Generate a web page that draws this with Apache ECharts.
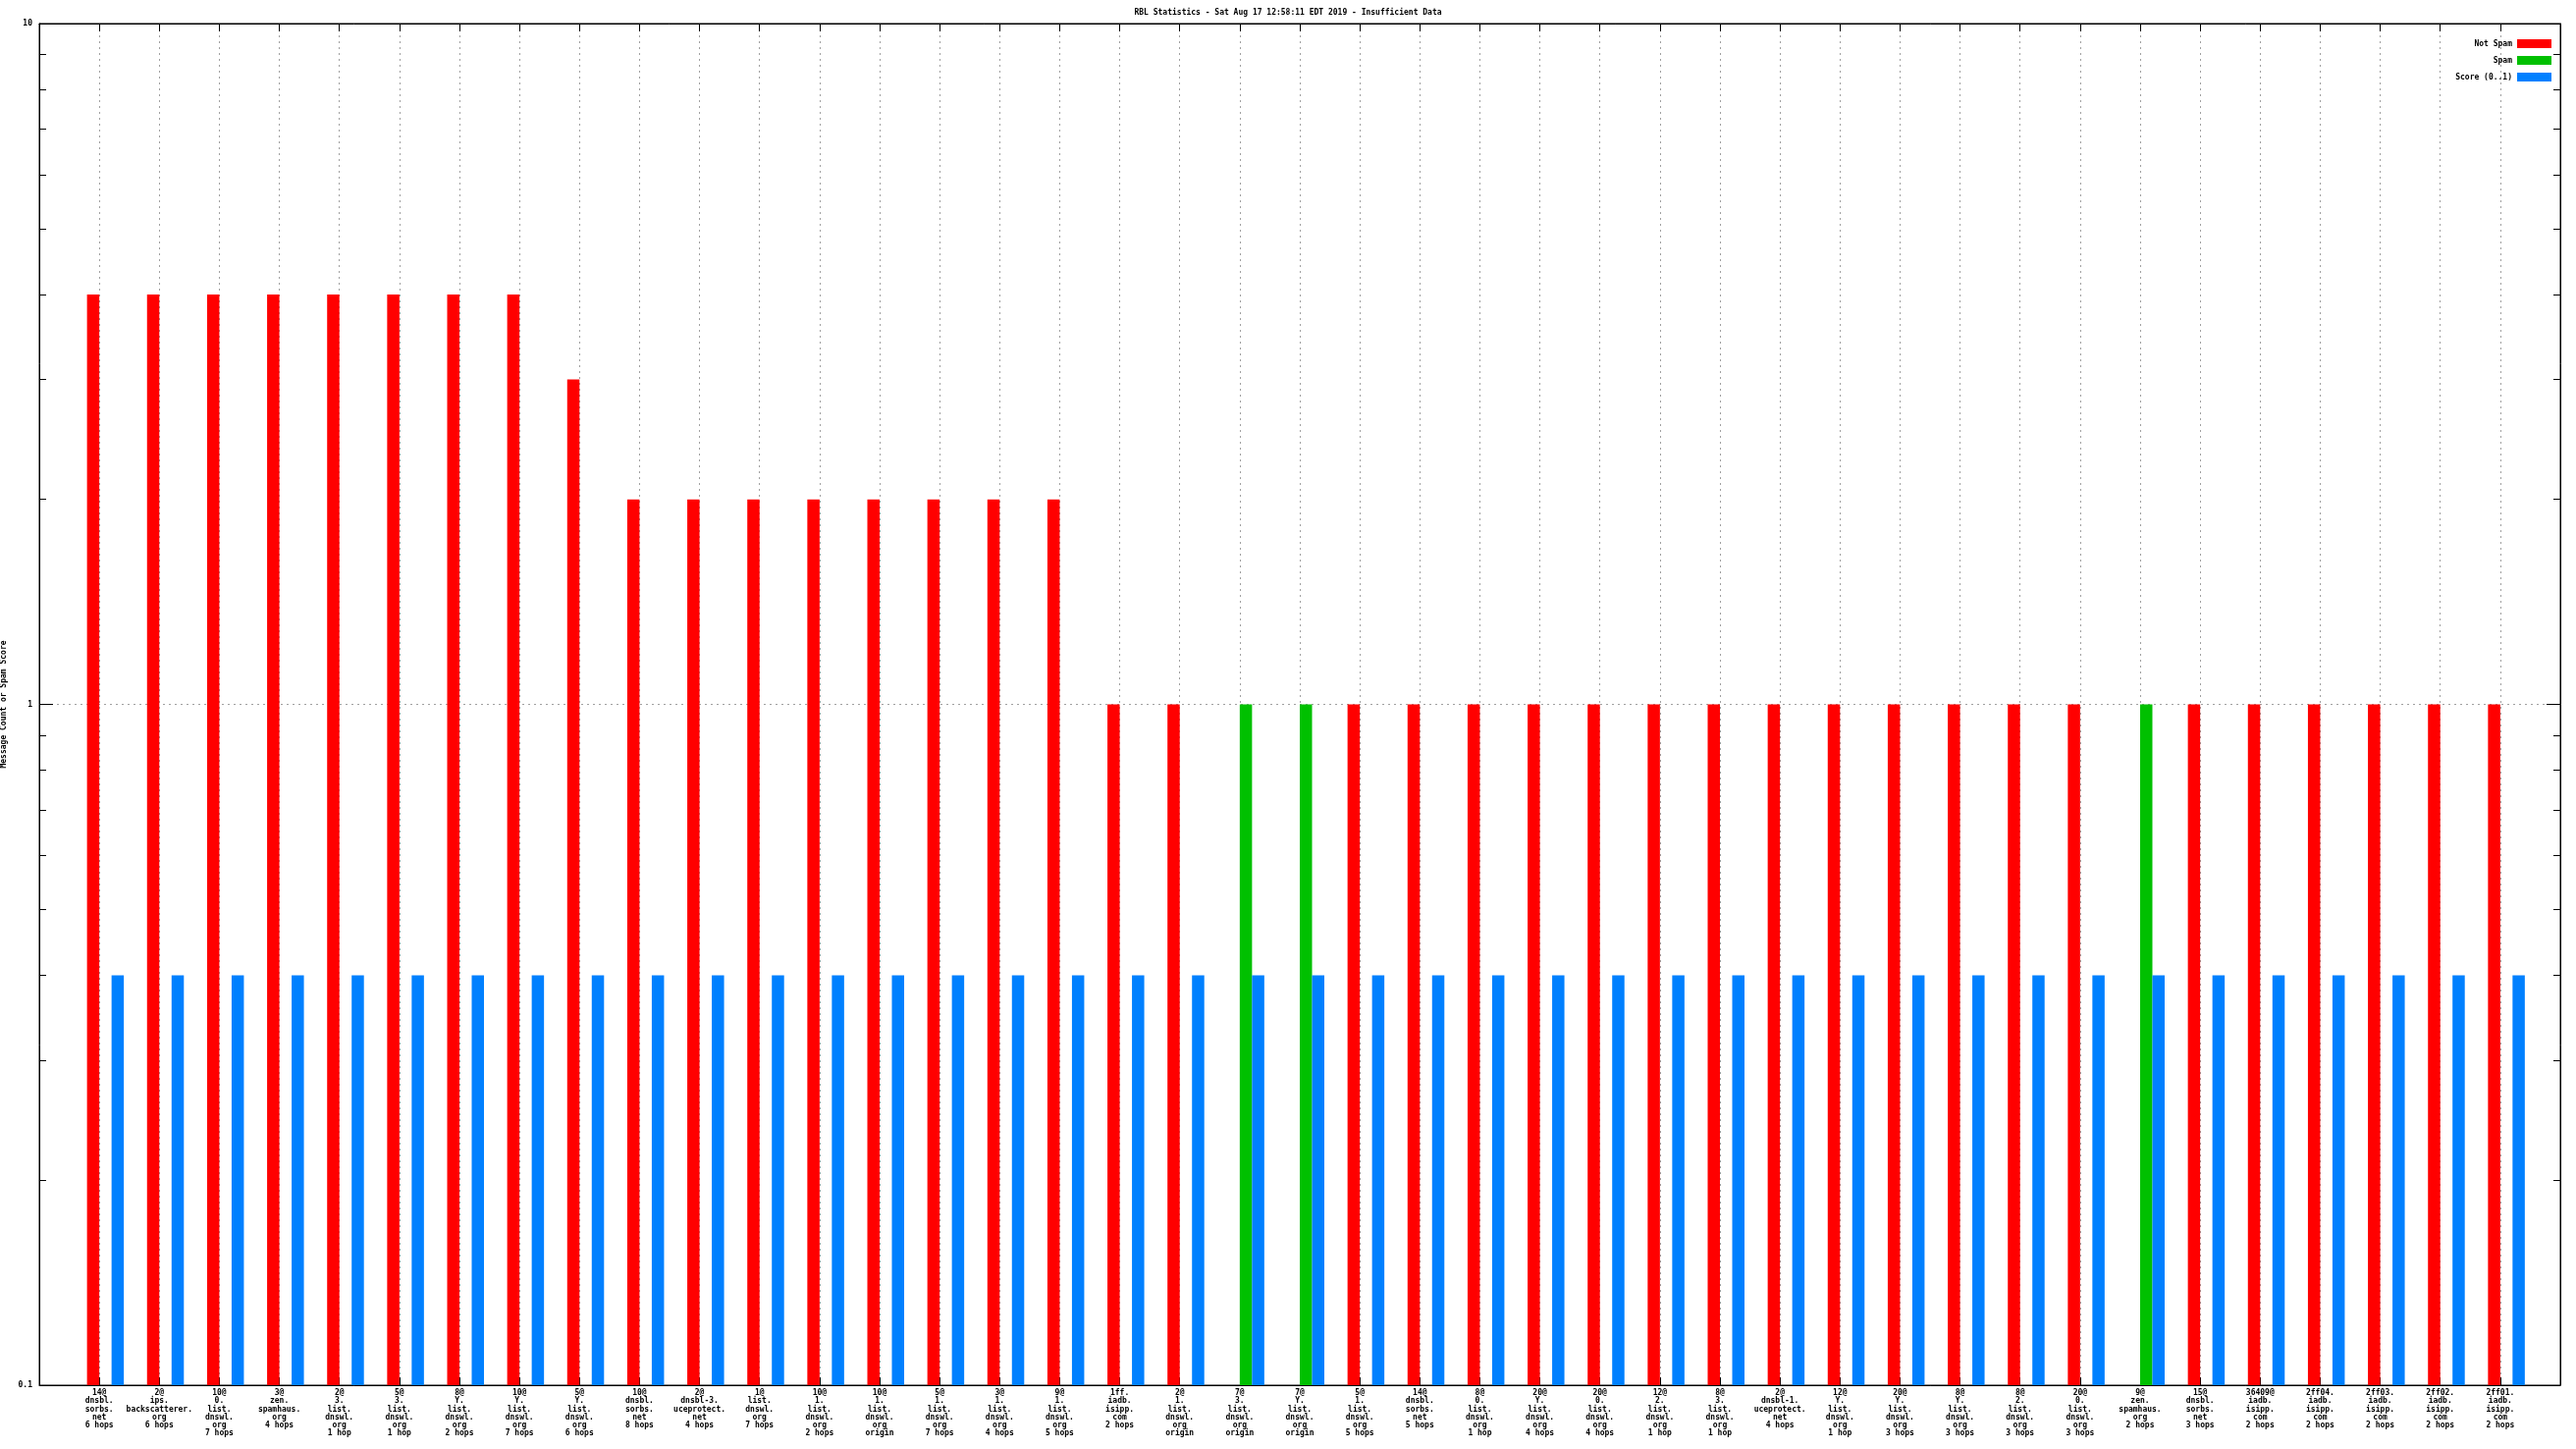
<!DOCTYPE html>
<html>
<head>
<meta charset="utf-8">
<script src="https://cdn.jsdelivr.net/npm/echarts@6/dist/echarts.min.js"></script>
<style>
html,body{margin:0;padding:0;background:#fff;}
#chart{width:2624px;height:1476px;}
</style>
</head>
<body>
<div id="chart"></div>
<script>
// ---- data ----
const categories = [
  ["14@","dnsbl.","sorbs.","net","6 hops"],
  ["2@","ips.","backscatterer.","org","6 hops"],
  ["10@","0.","list.","dnswl.","org","7 hops"],
  ["3@","zen.","spamhaus.","org","4 hops"],
  ["2@","3.","list.","dnswl.","org","1 hop"],
  ["5@","3.","list.","dnswl.","org","1 hop"],
  ["8@","Y.","list.","dnswl.","org","2 hops"],
  ["10@","Y.","list.","dnswl.","org","7 hops"],
  ["5@","Y.","list.","dnswl.","org","6 hops"],
  ["10@","dnsbl.","sorbs.","net","8 hops"],
  ["2@","dnsbl-3.","uceprotect.","net","4 hops"],
  ["1@","list.","dnswl.","org","7 hops"],
  ["10@","1.","list.","dnswl.","org","2 hops"],
  ["10@","1.","list.","dnswl.","org","origin"],
  ["5@","1.","list.","dnswl.","org","7 hops"],
  ["3@","1.","list.","dnswl.","org","4 hops"],
  ["9@","1.","list.","dnswl.","org","5 hops"],
  ["1ff.","iadb.","isipp.","com","2 hops"],
  ["2@","1.","list.","dnswl.","org","origin"],
  ["7@","3.","list.","dnswl.","org","origin"],
  ["7@","Y.","list.","dnswl.","org","origin"],
  ["5@","1.","list.","dnswl.","org","5 hops"],
  ["14@","dnsbl.","sorbs.","net","5 hops"],
  ["8@","0.","list.","dnswl.","org","1 hop"],
  ["20@","Y.","list.","dnswl.","org","4 hops"],
  ["20@","0.","list.","dnswl.","org","4 hops"],
  ["12@","2.","list.","dnswl.","org","1 hop"],
  ["8@","3.","list.","dnswl.","org","1 hop"],
  ["2@","dnsbl-1.","uceprotect.","net","4 hops"],
  ["12@","Y.","list.","dnswl.","org","1 hop"],
  ["20@","Y.","list.","dnswl.","org","3 hops"],
  ["8@","Y.","list.","dnswl.","org","3 hops"],
  ["8@","2.","list.","dnswl.","org","3 hops"],
  ["20@","0.","list.","dnswl.","org","3 hops"],
  ["9@","zen.","spamhaus.","org","2 hops"],
  ["15@","dnsbl.","sorbs.","net","3 hops"],
  ["36409@","iadb.","isipp.","com","2 hops"],
  ["2ff04.","iadb.","isipp.","com","2 hops"],
  ["2ff03.","iadb.","isipp.","com","2 hops"],
  ["2ff02.","iadb.","isipp.","com","2 hops"],
  ["2ff01.","iadb.","isipp.","com","2 hops"]
];
const notSpam = [4,4,4,4,4,4,4,4,3,2,2,2,2,2,2,2,2,1,1,null,null,1,1,1,1,1,1,1,1,1,1,1,1,1,null,1,1,1,1,1,1];
const spam    = [null,null,null,null,null,null,null,null,null,null,null,null,null,null,null,null,null,null,null,1,1,null,null,null,null,null,null,null,null,null,null,null,null,null,1,null,null,null,null,null,null];
const score   = [0.4,0.4,0.4,0.4,0.4,0.4,0.4,0.4,0.4,0.4,0.4,0.4,0.4,0.4,0.4,0.4,0.4,0.4,0.4,0.4,0.4,0.4,0.4,0.4,0.4,0.4,0.4,0.4,0.4,0.4,0.4,0.4,0.4,0.4,0.4,0.4,0.4,0.4,0.4,0.4,0.4];
const yMajorTicks = [0.1, 1, 10];
const yMinorTicks = [0.2,0.3,0.4,0.5,0.6,0.7,0.8,0.9,2,3,4,5,6,7,8,9];
const seriesNames = ["Not Spam","Spam","Score (0..1)"];
const titleText = "RBL Statistics - Sat Aug 17 12:58:11 EDT 2019 - Insufficient Data";
const yTitle = "Message Count or Spam Score";

// ---- layout / style ----
const FONT = '"DejaVu Sans Mono", monospace';
const FW = 'bold';
const X_MIN = -1, X_MAX = 41;          // tic range
const CLUSTER_SHIFT = 0.1022;          // cluster center sits half a bar right of the tic
const BAR_W = 12.5;
const colors = ['#ff0000', '#00c000', '#0080ff'];

const toPairs = arr => arr.map((v, i) => [i, v]);

const chart = echarts.init(document.getElementById('chart'), null, {renderer: 'canvas'});

const logBase = {type: 'log', logBase: 10, min: 0.1, max: 10, startValue: 0.1};
const noZero = {show: true, onZero: false, lineStyle: {color: '#000', width: 1}};

const option = {
  backgroundColor: '#ffffff',
  animation: false,
  title: {
    text: titleText,
    left: 'center',
    top: 9,
    padding: [0, 0, 0, 24],
    textStyle: {fontFamily: FONT, fontSize: 8, fontWeight: FW, color: '#000'}
  },
  legend: {
    orient: 'vertical',
    right: 25,
    top: 40,
    padding: 0,
    align: 'right',
    icon: 'rect',
    itemWidth: 35,
    itemHeight: 9,
    itemGap: 8,
    data: seriesNames,
    textStyle: {fontFamily: FONT, fontSize: 8, fontWeight: FW, color: '#000'}
  },
  grid: {
    left: 40, right: 16, top: 24, bottom: 65,
    outerBoundsMode: 'none',
    containLabel: false,
    show: true, borderColor: '#000', borderWidth: 1, backgroundColor: 'transparent'
  },
  xAxis: [
    {
      type: 'value', position: 'bottom', min: X_MIN, max: X_MAX, interval: 1,
      axisLine: noZero,
      axisTick: {show: true, inside: true, length: 8, lineStyle: {color: '#000'}},
      axisLabel: {
        show: true, margin: 4, fontFamily: FONT, fontSize: 8, fontWeight: FW, lineHeight: 8.2, color: '#000',
        align: 'center', verticalAlign: 'top',
        showMinLabel: true, showMaxLabel: true, hideOverlap: false,
        formatter: v => {
          const i = Math.round(v);
          return (i >= 0 && i < categories.length) ? categories[i].join('\n') : '';
        }
      },
      splitLine: {show: true, lineStyle: {color: '#a0a0a0', width: 1, type: [2, 4]}}
    },
    {
      type: 'value', position: 'bottom', show: false,
      min: X_MIN - CLUSTER_SHIFT, max: X_MAX - CLUSTER_SHIFT,
      axisLine: {show: false, onZero: false},
      splitLine: {show: false}
    },
    {
      type: 'value', position: 'top', min: X_MIN, max: X_MAX, interval: 1,
      axisLine: noZero,
      axisTick: {show: true, inside: true, length: 8, lineStyle: {color: '#000'}},
      axisLabel: {show: false},
      splitLine: {show: false}
    }
  ],
  yAxis: [
    Object.assign({}, logBase, {
      position: 'left',
      name: yTitle, nameLocation: 'middle', nameGap: 31, nameRotate: 90,
      nameTextStyle: {fontFamily: FONT, fontSize: 8, fontWeight: FW, color: '#000'},
      axisLine: noZero,
      axisTick: {show: true, inside: true, length: 14, customValues: yMajorTicks, lineStyle: {color: '#000'}},
      axisLabel: {show: true, customValues: yMajorTicks, margin: 7, fontFamily: FONT, fontSize: 8, fontWeight: FW, color: '#000',
                  formatter: v => String(+v.toPrecision(3))},
      splitLine: {show: true, lineStyle: {color: '#a0a0a0', width: 1, type: [2, 4]}}
    }),
    Object.assign({}, logBase, {
      position: 'left',
      axisLine: {show: false, onZero: false},
      axisTick: {show: true, inside: true, length: 7, customValues: yMinorTicks, lineStyle: {color: '#000'}},
      axisLabel: {show: false},
      splitLine: {show: false}
    }),
    Object.assign({}, logBase, {
      position: 'right',
      axisLine: noZero,
      axisTick: {show: true, inside: true, length: 14, customValues: yMajorTicks, lineStyle: {color: '#000'}},
      axisLabel: {show: false},
      splitLine: {show: false}
    }),
    Object.assign({}, logBase, {
      position: 'right',
      axisLine: {show: false, onZero: false},
      axisTick: {show: true, inside: true, length: 7, customValues: yMinorTicks, lineStyle: {color: '#000'}},
      axisLabel: {show: false},
      splitLine: {show: false}
    })
  ],
  series: [notSpam, spam, score].map((arr, k) => ({
    name: seriesNames[k],
    type: 'bar',
    xAxisIndex: 1,
    yAxisIndex: 0,
    barWidth: BAR_W,
    barGap: '0%',
    itemStyle: {color: colors[k]},
    data: toPairs(arr)
  }))
};

chart.setOption(option);
</script>
</body>
</html>
